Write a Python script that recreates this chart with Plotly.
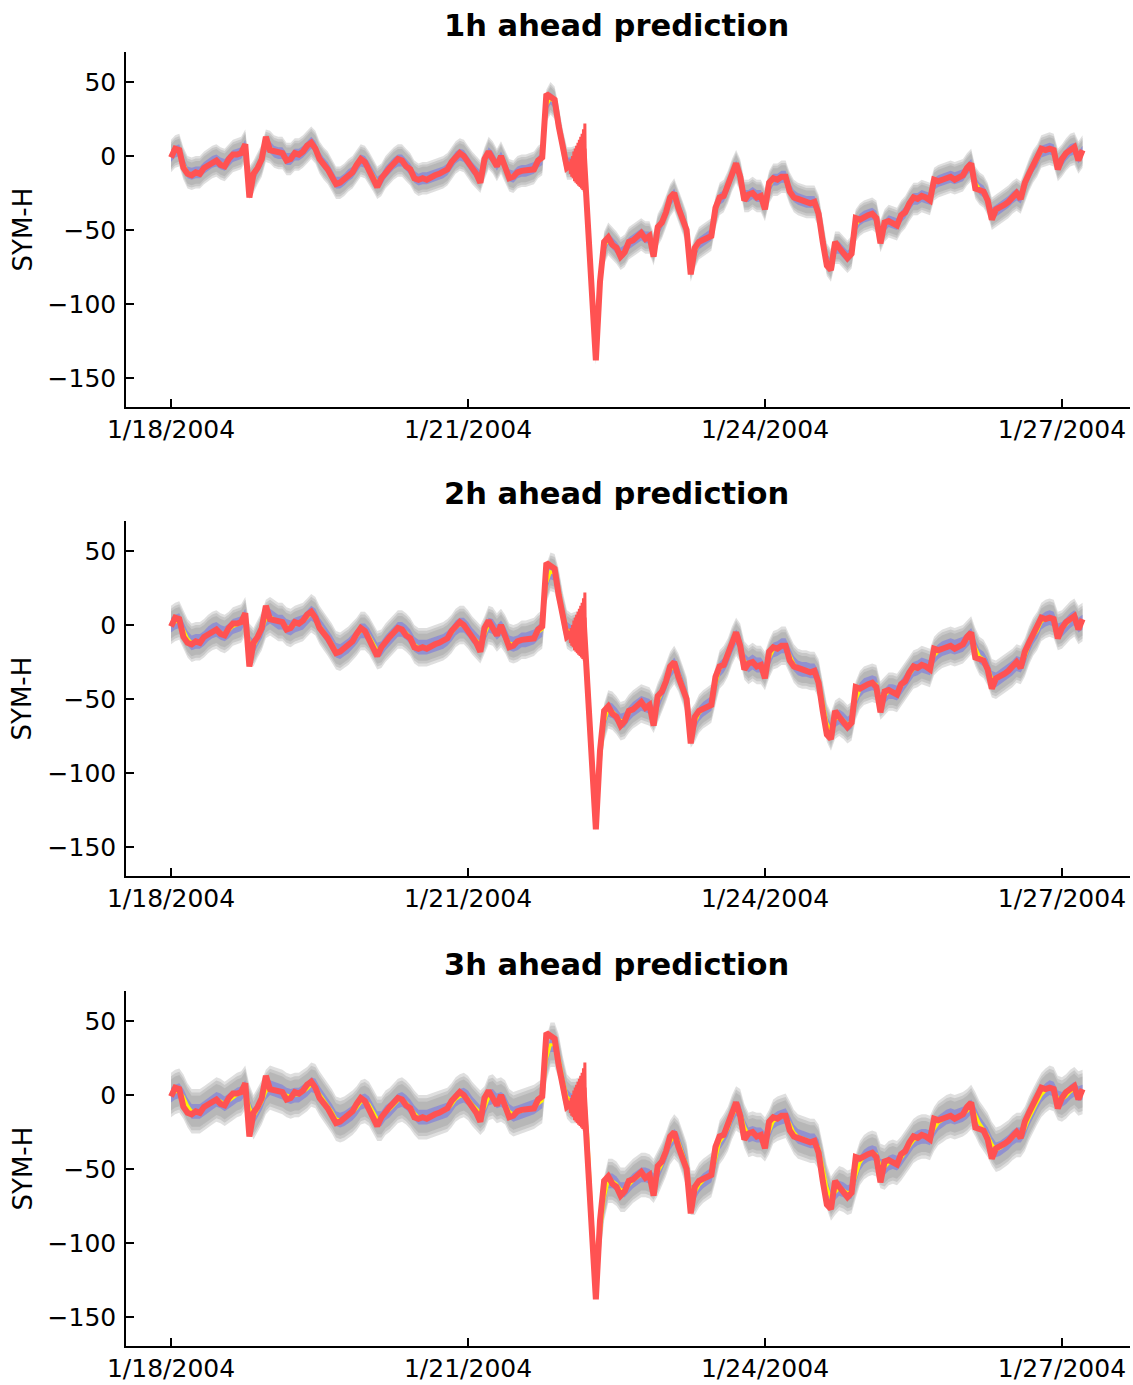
import pandas as pd
import plotly.graph_objects as go

# ---------------------------------------------------------------------------
# Data: hourly SYM-H (nT), 2004-01-18 00:00 onwards
# ---------------------------------------------------------------------------
start = "2004-01-18 00:00"

observed = [
    -1, 5, 4, -8, -12, -13, -11, -12, -8, -6,
    -4, -3, -6, -7, -2, 1, 1, 2, 8, -28,
    -12, -8, -2, 13, 4, 3, 2, 2, -3, -2,
    2, 1, 3, 7, 9, 5, -2, -5, -9, -14,
    -19, -18, -16, -13, -11, -6, -2, -4, -9, -14,
    -21, -15, -11, -8, -5, -2, -3, -7, -9, -15,
    -16, -15, -16, -14, -13, -12, -11, -9, -4, -1,
    2, 0, -5, -8, -12, -18, -2, 3, -2, -7,
    0, -8, -15, -14, -11, -10, -10, -9, -9, -3,
    -1, 42, 40, 38, 20, 5, -8, -6, -4, -2,
    5, -40, -100, -138, -85, -58, -55, -60, -62, -68,
    -65, -58, -57, -55, -52, -56, -54, -68, -48, -45,
    -38, -28, -25, -35, -42, -50, -80, -62, -58, -57,
    -55, -54, -35, -28, -27, -20, -12, -5, -14, -30,
    -26, -25, -28, -27, -36, -18, -15, -16, -14, -14,
    -24, -28, -29, -30, -31, -32, -31, -39, -58, -74,
    -77, -58, -62, -66, -69, -66, -42, -43, -41, -40,
    -39, -42, -59, -45, -44, -46, -47, -40, -38, -32,
    -28, -29, -27, -28, -30, -16, -17, -16, -15, -14,
    -16, -14, -13, -8, -5, -22, -23, -24, -30, -43,
    -36, -35, -33, -31, -28, -25, -29, -18, -12, -6,
    -2, 5, 4, 5, 4, -9, -2, 2, 4, 6,
    -3, 4,
]

# 10-minute observations during the sudden commencement oscillations
burst_start = "2004-01-22 00:30"
burst_values = [
    -8, -4, -12, -2, -14, 0, -15, 3, -17, 5, -18, 7, -19,
    9, -20, 11, -21, 13, -22, 15, -23, 18, -24, 22, -25,
]

pred_1h = [
    0, 3, 4, -5, -11, -12, -11, -11, -8, -6,
    -4, -3, -5, -6, -3, 0, 1, 2, 7, -18,
    -14, -8, -3, 7, 6, 3, 2, 2, -2, -2,
    1, 1, 3, 6, 9, 6, -1, -5, -8, -13,
    -18, -18, -16, -13, -11, -7, -3, -4, -8, -13,
    -18, -16, -11, -8, -5, -3, -3, -6, -9, -14,
    -16, -15, -15, -14, -13, -12, -11, -9, -5, -1,
    1, 0, -4, -8, -11, -14, -5, 2, -1, -6,
    -1, -7, -13, -14, -11, -10, -10, -9, -8, -4,
    -2, 34, 39, 36, 23, 7, -5, -5, -4, -3,
    0, -35, -92, -130, -90, -62, -56, -59, -62, -66,
    -64, -59, -57, -55, -53, -55, -55, -63, -50, -45,
    -38, -30, -26, -33, -41, -49, -74, -65, -59, -57,
    -55, -53, -38, -29, -27, -21, -13, -7, -13, -27,
    -27, -25, -27, -27, -33, -21, -16, -16, -14, -14,
    -22, -27, -29, -30, -31, -31, -31, -37, -55, -70,
    -74, -62, -62, -65, -68, -65, -47, -43, -41, -40,
    -39, -41, -54, -47, -44, -45, -46, -41, -38, -33,
    -29, -29, -27, -28, -29, -19, -17, -16, -15, -14,
    -15, -14, -13, -9, -6, -18, -22, -24, -29, -39,
    -37, -35, -33, -31, -28, -26, -28, -20, -13, -7,
    -3, 3, 4, 5, 4, -6, -3, 1, 4, 5,
    -1, 3,
]

pred_2h = [
    0, 2, 3, -3, -9, -12, -11, -11, -9, -6,
    -4, -3, -5, -6, -4, -1, 0, 1, 6, -12,
    -15, -9, -4, 4, 6, 4, 2, 2, -1, -2,
    0, 1, 2, 5, 8, 6, 0, -4, -8, -12,
    -17, -18, -16, -14, -11, -8, -4, -4, -7, -12,
    -17, -16, -12, -9, -6, -3, -3, -5, -8, -13,
    -15, -15, -15, -14, -13, -12, -11, -9, -6, -2,
    0, 0, -3, -7, -10, -13, -7, 0, -1, -5,
    -2, -6, -12, -13, -12, -10, -10, -9, -8, -5,
    -3, 28, 36, 35, 25, 9, -3, -5, -4, -3,
    -1, -30, -85, -126, -92, -66, -57, -58, -61, -65,
    -64, -60, -57, -55, -53, -54, -55, -60, -52, -46,
    -39, -31, -27, -32, -40, -48, -70, -66, -60, -57,
    -55, -53, -41, -30, -27, -22, -14, -8, -12, -24,
    -27, -25, -27, -27, -31, -23, -17, -16, -14, -14,
    -20, -26, -29, -30, -30, -31, -31, -36, -51, -66,
    -72, -64, -62, -64, -67, -65, -51, -44, -41, -40,
    -39, -40, -51, -48, -45, -45, -46, -42, -38, -34,
    -30, -29, -27, -28, -29, -21, -18, -16, -15, -14,
    -15, -14, -13, -10, -7, -15, -21, -23, -28, -36,
    -37, -35, -33, -31, -29, -26, -27, -22, -14, -8,
    -4, 2, 4, 5, 4, -4, -3, 0, 3, 5,
    0, 2,
]

pred_3h = [
    0, 2, 3, -1, -7, -11, -11, -11, -9, -7,
    -5, -3, -4, -6, -4, -2, 0, 1, 5, -8,
    -15, -10, -5, 2, 5, 4, 3, 2, 0, -1,
    0, 0, 2, 4, 7, 6, 1, -3, -7, -11,
    -16, -17, -16, -14, -12, -9, -5, -4, -6, -11,
    -16, -16, -12, -10, -7, -4, -3, -5, -8, -12,
    -15, -15, -15, -14, -13, -12, -11, -10, -7, -3,
    -1, 0, -2, -6, -9, -12, -9, -2, -1, -4,
    -3, -5, -11, -13, -12, -11, -10, -9, -8, -6,
    -4, 24, 34, 34, 26, 11, -1, -4, -4, -3,
    -2, -26, -80, -122, -94, -70, -58, -58, -60, -64,
    -64, -61, -58, -56, -54, -54, -55, -58, -53, -47,
    -40, -32, -28, -31, -39, -47, -66, -66, -61, -58,
    -56, -54, -44, -32, -28, -23, -15, -9, -11, -21,
    -27, -26, -27, -27, -30, -25, -18, -16, -15, -14,
    -19, -25, -28, -29, -30, -31, -31, -35, -48, -62,
    -70, -66, -63, -64, -66, -65, -55, -46, -42, -40,
    -39, -40, -48, -49, -46, -45, -46, -43, -39, -35,
    -31, -29, -28, -28, -29, -23, -19, -17, -15, -14,
    -15, -14, -13, -11, -8, -13, -19, -23, -27, -33,
    -37, -36, -34, -32, -29, -27, -27, -23, -16, -10,
    -5, 0, 3, 5, 4, -2, -3, -1, 2, 4,
    1, 2,
]

panel_titles = ["1h ahead prediction", "2h ahead prediction", "3h ahead prediction"]
predictions = [pred_1h, pred_2h, pred_3h]
outer_halfwidth = [11, 13, 15]   # outer (grey) uncertainty band, nT
inner_halfwidth = [4, 5, 5]      # inner (blue) uncertainty band, nT

y_tick_values = [-150, -100, -50, 0, 50]
y_tick_labels = ["\u2212150", "\u2212100", "\u221250", "0", "50"]
x_tick_values = ["2004-01-18", "2004-01-21", "2004-01-24", "2004-01-27"]
x_tick_labels = ["1/18/2004", "1/21/2004", "1/24/2004", "1/27/2004"]

# ---------------------------------------------------------------------------
times = pd.date_range(start, periods=len(observed), freq="h")
burst_times = pd.date_range(burst_start, periods=len(burst_values), freq="10min")

W, H = 1133, 1385
FONT = "DejaVu Sans"
RED = "rgb(255,82,82)"
YELLOW = "rgb(255,245,0)"
GREY = "rgba(140,140,140,0.28)"
BLUE = "rgba(120,120,225,0.6)"

# pixel layout of the three axes boxes (top, bottom)
boxes = [(52, 407), (521, 876), (991, 1346)]
x_left, x_right = 126, 1130

fig = go.Figure()


def band(xs, centre, half):
    upper = [c + half for c in centre]
    lower = [c - half for c in centre]
    return list(xs) + list(xs[::-1]), upper + lower[::-1]


for i, (pred, title) in enumerate(zip(predictions, panel_titles)):
    xa = "x" if i == 0 else f"x{i + 1}"
    ya = "y" if i == 0 else f"y{i + 1}"

    # soft-edged grey band: stacked layers
    for frac in (1.0, 0.85, 0.7):
        bx, by = band(times, pred, outer_halfwidth[i] * frac)
        fig.add_trace(go.Scatter(x=bx, y=by, fill="toself", fillcolor=GREY,
                                 line=dict(width=0), mode="lines",
                                 hoverinfo="skip", xaxis=xa, yaxis=ya))
    bx, by = band(times, pred, inner_halfwidth[i])
    fig.add_trace(go.Scatter(x=bx, y=by, fill="toself", fillcolor=BLUE,
                             line=dict(width=0), mode="lines",
                             hoverinfo="skip", xaxis=xa, yaxis=ya))
    fig.add_trace(go.Scatter(x=times, y=pred, mode="lines",
                             line=dict(color=YELLOW, width=3),
                             xaxis=xa, yaxis=ya))
    fig.add_trace(go.Scatter(x=times, y=observed, mode="lines",
                             line=dict(color=RED, width=6),
                             xaxis=xa, yaxis=ya))
    fig.add_trace(go.Scatter(x=burst_times, y=burst_values, mode="lines",
                             line=dict(color=RED, width=3),
                             xaxis=xa, yaxis=ya))

    top, bottom = boxes[i]
    axis_common = dict(showline=True, linecolor="black", linewidth=1.5,
                       ticks="inside", ticklen=8, tickwidth=1.5,
                       tickcolor="black", showgrid=False, zeroline=False,
                       mirror=False, automargin=False,
                       tickfont=dict(family=FONT, size=25, color="black"))
    fig.layout[f"xaxis{'' if i == 0 else i + 1}"] = dict(
        axis_common,
        domain=[x_left / W, x_right / W],
        anchor=ya,
        range=["2004-01-17 13:05", "2004-01-27 16:30"],
        tickvals=x_tick_values, ticktext=x_tick_labels,
        ticklabelstandoff=-1,
    )
    fig.layout[f"yaxis{'' if i == 0 else i + 1}"] = dict(
        axis_common,
        domain=[1 - bottom / H, 1 - top / H],
        anchor=xa,
        range=[-169.6, 70.3],
        tickvals=y_tick_values, ticktext=y_tick_labels,
        ticklabelstandoff=3,
    )

    fig.add_annotation(text=f"<b>{title}</b>", xref="paper", yref="paper",
                       x=616 / W, y=1 - (top - 27) / H, xanchor="center",
                       yanchor="middle", showarrow=False,
                       font=dict(family=FONT, size=30.5, color="black"))
    fig.add_annotation(text="SYM-H", xref="paper", yref="paper",
                       x=22 / W, y=1 - (top + bottom) / 2 / H,
                       xanchor="center", yanchor="middle", textangle=-90,
                       showarrow=False,
                       font=dict(family=FONT, size=26, color="black"))

fig.update_layout(width=W, height=H, margin=dict(l=0, r=0, t=0, b=0),
                  plot_bgcolor="white", paper_bgcolor="white",
                  showlegend=False)

fig.write_html("out.html")
